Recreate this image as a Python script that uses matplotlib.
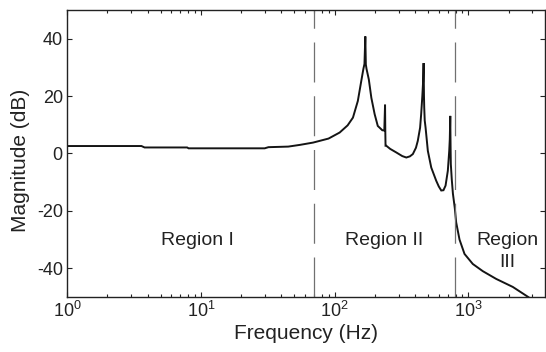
import matplotlib
matplotlib.use("Agg")
import matplotlib.pyplot as plt
from matplotlib.ticker import LogLocator, NullFormatter

plt.rcParams["font.family"] = ["Liberation Sans", "DejaVu Sans"]
plt.rcParams["mathtext.fontset"] = "custom"
plt.rcParams["mathtext.rm"] = "Liberation Sans"
plt.rcParams["mathtext.it"] = "Liberation Sans:italic"
plt.rcParams["mathtext.bf"] = "Liberation Sans:bold"
plt.rcParams["axes.unicode_minus"] = False

# measured magnitude response (Hz, dB)
freq_hz = [1, 3.6, 3.8, 7.9, 8.1, 30, 32, 45, 55, 69, 90, 109, 125, 137, 149, 158,
           164, 167, 169.5, 171, 173, 180, 188, 199, 210, 227, 235, 238, 239, 240,
           243, 260, 289, 320, 343, 365, 384, 405, 418, 435, 443, 452, 458, 462,
           465, 467, 471, 478, 497, 527, 574, 600, 626, 650, 674, 701, 718, 725,
           731, 735, 738, 750, 765, 790, 809, 857, 934, 1077, 1279, 1610, 2144,
           2772, 3000]
mag_db = [2.6, 2.6, 2.1, 2.1, 1.8, 1.8, 2.2, 2.4, 3.0, 3.8, 5.2, 7.3, 9.8, 12.5, 18.3, 25.2,
          29.5, 31.2, 40.8, 31.0, 29.5, 25.8, 19.4, 13.7, 9.6, 8.1, 8.0, 17.0, 8.0, 2.7,
          2.7, 1.6, 0.35, -0.9, -1.4, -1.0, -0.2, 2.0, 4.4, 9.0, 13.7, 20.0, 25.0, 31.5,
          20.0, 16.0, 11.5, 9.0, 0.9, -4.9, -9.5, -11.5, -12.9, -12.8, -11.2, -6.0, 0.9, 5.0,
          13.1, 2.0, -3.7, -9.0, -14.0, -19.0, -24.0, -30.0, -35.0, -38.5, -41.0, -43.7, -46.5,
          -49.9, -51.0]

# region boundaries (Hz)
boundaries_hz = [70, 790]

region_labels = ["Region I", "Region II", "Region", "III"]
region_x_hz = [9.4, 233, 1940, 1940]
region_y_db = [-31.8, -31.8, -31.8, -39.5]

fig = plt.figure(figsize=(5.46, 3.52), dpi=100)
ax = fig.add_axes([0.1227, 0.1563, 0.8746, 0.8153])

ax.semilogx(freq_hz, mag_db, color="#141414", linewidth=1.4, solid_joinstyle="miter")

# dash pattern in points: ~40 px on, ~14 px off
for b in boundaries_hz:
    ax.axvline(b, color="#707070", linewidth=0.9, linestyle=(0, (32, 11)))

for lbl, x, y in zip(region_labels, region_x_hz, region_y_db):
    ax.text(x, y, lbl, ha="center", va="baseline", fontsize=14, color="#222222")

ax.set_xlim(1, 3700)
ax.set_ylim(-50, 50)
ax.set_yticks([-40, -20, 0, 20, 40])
ax.xaxis.set_major_locator(LogLocator(base=10))
ax.xaxis.set_minor_locator(LogLocator(base=10, subs=range(2, 10)))
ax.xaxis.set_minor_formatter(NullFormatter())

ax.tick_params(which="both", direction="in", top=True, right=True, width=0.8,
               labelsize=13, colors="#222222")
ax.tick_params(which="major", length=3.3, pad=3)
ax.tick_params(which="minor", length=2.0)
for s in ax.spines.values():
    s.set_linewidth(1.0)
    s.set_color("#222222")

ax.set_xlabel("Frequency (Hz)", fontsize=15, color="#222222", labelpad=2)
ax.set_ylabel("Magnitude (dB)", fontsize=15, color="#222222")
ax.yaxis.set_label_coords(-0.077, 0.475)

fig.savefig("out.png", dpi=100)
